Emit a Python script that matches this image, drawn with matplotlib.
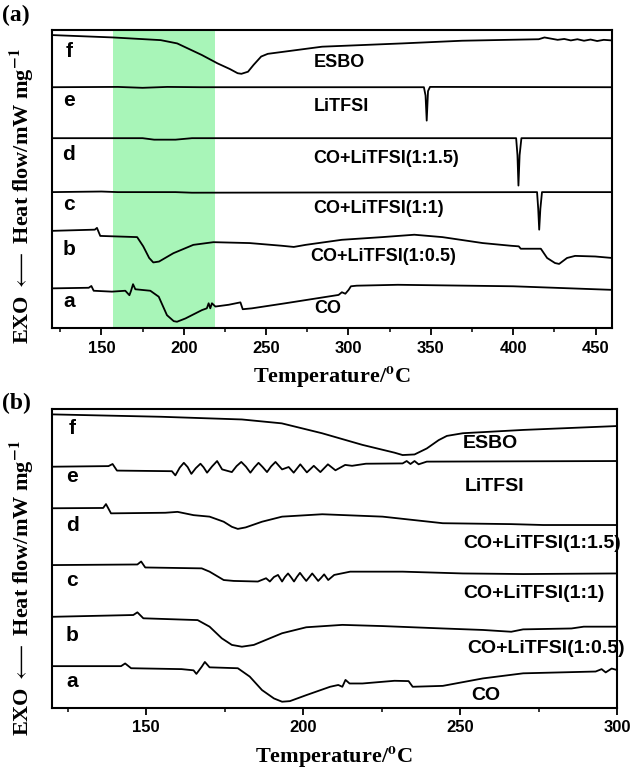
import numpy as np
import matplotlib
matplotlib.use("Agg")
import matplotlib.pyplot as plt
from matplotlib.ticker import MultipleLocator

plt.rcParams["mathtext.fontset"] = "stix"

# ---- panel (a) : 120-460 C ----
a_f_T = [120, 157, 186, 196, 211, 220.5, 228, 232.7, 235, 239, 242.4, 247, 251, 284, 332.7, 369, 415.5,
         419, 423, 427, 431, 435, 439, 443, 447, 451, 455, 460]
a_f_v = [98.3, 97.5, 96.6, 95.5, 91.6, 88.8, 86.9, 85.5, 85.3, 86.0, 88.3, 91.1, 92.0, 94.4, 95.5, 96.4, 96.9,
         97.5, 97.1, 96.7, 97.0, 96.5, 96.9, 96.4, 96.8, 96.3, 96.7, 96.5]

a_e_T = [120, 160, 175, 190, 210, 345.8, 346.8, 347.5, 348.3, 349.5, 460]
a_e_v = [80.8, 80.9, 80.6, 80.9, 80.8, 80.8, 78.0, 69.6, 79.5, 80.9, 80.8]

a_d_T = [120, 175, 182, 195, 205, 401.8, 402.6, 403.2, 403.9, 405, 460]
a_d_v = [63.7, 63.7, 63.2, 63.2, 63.7, 63.7, 58.0, 47.8, 58.0, 63.7, 63.7]

a_c_T = [120, 150, 160, 195, 205, 414.5, 415.2, 415.8, 416.5, 417.5, 460]
a_c_v = [45.6, 45.8, 45.6, 45.6, 45.4, 45.6, 40.0, 33.0, 40.0, 45.6, 45.6]

a_b_T = [120, 146, 147.3, 149.3, 171.7, 175.4, 179, 181.5, 185, 193.7, 205.8, 218, 240, 259.5, 266.8, 274, 296,
         320.5, 340, 357, 381.5, 398.6, 403.4, 404.6, 416.8, 420.6, 425.4, 427.9, 432.7, 437.6, 449.8, 460]
a_b_v = [32.6, 33.0, 33.6, 30.9, 30.5, 27.4, 23.5, 22.0, 22.3, 25.1, 27.9, 28.8, 28.5, 27.6, 27.2, 27.9, 29.6,
         30.5, 31.3, 30.5, 28.5, 27.6, 27.4, 26.6, 26.6, 23.5, 21.8, 21.5, 23.5, 24.2, 24.0, 23.5]

a_a_T = [120, 142.3, 143.9, 145.3, 156.4, 164.5, 167, 168, 169.2, 170.6, 179.7, 184.8, 189.8, 193.9, 195.9, 201,
         211, 214, 215.1, 216.1, 217.1, 219.2, 227.3, 234.4, 235.8, 241.4, 261.7, 294, 296, 298.1, 300.1,
         301.5, 305, 330, 400, 460]
a_a_v = [13.3, 13.5, 14.1, 12.5, 12.2, 12.5, 11.0, 12.5, 14.7, 13.0, 12.5, 10.5, 4.3, 2.3, 2.1, 3.2,
         6.0, 6.6, 8.3, 6.6, 8.3, 7.2, 7.8, 8.6, 6.3, 6.6, 8.3, 11.1, 12.0, 11.5, 12.8,
         14.0, 14.2, 14.5, 14.0, 12.8]

a_curves = [(a_f_T, a_f_v), (a_e_T, a_e_v), (a_d_T, a_d_v), (a_c_T, a_c_v), (a_b_T, a_b_v), (a_a_T, a_a_v)]
a_letters = ["f", "e", "d", "c", "b", "a"]
a_letter_y = [92.7, 76.5, 58.1, 41.3, 26.3, 8.9]
a_names = ["ESBO", "LiTFSI", "CO+LiTFSI(1:1.5)", "CO+LiTFSI(1:1)", "CO+LiTFSI(1:0.5)", "CO"]
a_name_x = [279, 279, 278.5, 278.5, 277, 279.5]
a_name_y = [89.1, 74.3, 57.0, 40.2, 24.0, 6.7]

# ---- panel (b) : 120-300 C ----
b_f_T = [120, 154.8, 180.5, 193.2, 206, 218.9, 229.1, 231.7, 235.5, 239.4, 243.2, 245.8, 250.9, 270.1, 300]
b_f_v = [98.2, 97.4, 96.5, 95.2, 91.9, 88.0, 85.4, 84.6, 84.8, 86.8, 89.6, 91.0, 91.9, 93.0, 94.3]

b_e_T = [120, 138, 139.3, 140.7, 158.2, 159.3, 160.7, 162, 163.2, 164.4, 165.8, 167.3, 168.3, 169.4, 171,
         172.6, 173.4, 174.2, 177.3, 178.8, 180.3, 181.8, 183.2, 184.5, 185.8, 187.1, 188.5, 189.8, 191.2,
         193.3, 195.4, 197, 199.1, 201.2, 203.4, 205.5, 207.9, 210.3, 213.4, 215.6,
         220, 231.7, 233, 234.2, 235.5, 236.8, 239.4, 300]
b_e_v = [80.7, 80.9, 81.6, 79.4, 79.2, 77.8, 80.4, 82.0, 80.6, 78.3, 80.2, 81.7, 80.5, 78.7, 80.8,
         82.6, 81.2, 79.8, 78.9, 80.9, 82.3, 80.7, 78.7, 80.5, 82.0, 80.6, 78.9, 80.8, 82.3,
         79.8, 80.6, 78.7, 81.5, 78.8, 81.0, 78.9, 81.5, 79.5, 81.3, 81.0,
         81.7, 81.8, 82.6, 81.6, 82.6, 81.5, 82.4, 82.6]

b_d_T = [120, 136.3, 137.2, 138.8, 156.1, 160, 165.1, 170.2, 174.7, 177.3, 179.2, 181.7, 186.9, 193.3,
         206.1, 225.3, 244.5, 266.3, 276.5, 300]
b_d_v = [66.8, 66.9, 68.2, 65.1, 65.3, 65.6, 64.5, 64.0, 62.3, 60.6, 59.9, 60.4, 62.3, 64.0,
         64.8, 64.0, 61.8, 61.5, 61.2, 61.2]

b_c_T = [120, 147.2, 148.4, 149.7, 167.7, 170.2, 174.7, 177.9, 185.6, 188.2, 189.4, 190.7, 192, 193.3, 194.2,
         195.2, 196.1, 197.1, 198, 199, 200, 201, 202, 202.9, 203.9, 204.8, 205.8, 206.7, 208, 209.9, 215,
         231.7, 250.9, 270.1, 300]
b_c_v = [47.8, 48.0, 49.0, 47.0, 46.7, 45.6, 42.8, 42.5, 42.3, 43.4, 42.3, 43.8, 44.5, 42.3, 43.8,
         45.0, 43.8, 42.3, 43.8, 45.2, 43.8, 42.5, 43.8, 45.0, 43.7, 42.5, 43.6, 44.7, 42.8, 44.5, 45.6,
         45.6, 45.0, 44.8, 45.0]

b_b_T = [120, 145.9, 147.2, 149.1, 166.4, 170.2, 174.1, 177.3, 180.5, 184.3, 193.3, 201, 212.5, 225.3,
         244.5, 257.3, 266.3, 270.1, 285.5, 289.4, 300]
b_b_v = [30.5, 31.1, 32.0, 30.0, 29.4, 27.2, 23.3, 21.1, 20.5, 21.1, 25.0, 27.0, 27.8, 27.4,
         26.6, 26.1, 25.5, 26.3, 26.6, 27.2, 27.2]

b_a_T = [120, 142, 143.3, 145.2, 161.3, 165.1, 166, 167.7, 168.7, 170.2, 179.2, 183, 186.9, 190.7, 193.3,
         195.8, 201, 208.6, 211.2, 212.5, 213.5, 214.8, 218.9, 229.1, 233.6, 234.9, 244.5, 257.3, 270.1,
         293.2, 295.1, 296.4, 298.3, 300]
b_a_v = [14.0, 14.0, 14.9, 13.3, 13.0, 12.6, 11.4, 13.8, 15.4, 13.6, 13.3, 10.5, 6.0, 3.2, 2.1,
         2.3, 4.3, 7.1, 7.7, 7.1, 9.4, 8.2, 8.2, 9.1, 9.0, 7.1, 7.4, 9.9, 11.6,
         12.2, 13.0, 11.9, 13.2, 12.7]

b_curves = [(b_f_T, b_f_v), (b_e_T, b_e_v), (b_d_T, b_d_v), (b_c_T, b_c_v), (b_b_T, b_b_v), (b_a_T, b_a_v)]
b_letter_y = [93.5, 77.4, 60.9, 42.8, 24.4, 8.8]
b_name_x = [251, 251.6, 251, 251, 252.3, 253.5]
b_name_y = [88.3, 74.2, 55.1, 38.3, 20.0, 4.3]

shade = (157, 219)

serif = ["Liberation Serif", "DejaVu Serif"]
sans = ["Liberation Sans", "DejaVu Sans"]

fig = plt.figure(figsize=(6.32, 7.69), dpi=100)
ax1 = fig.add_axes([52 / 632, 1 - 328 / 769, 560 / 632, 298 / 769])
ax2 = fig.add_axes([52 / 632, 1 - 708 / 769, 565 / 632, 299 / 769])


def style(ax, xlim, major, lx, names_x, names_y, letter_y, name_size):
    ax.set_xlim(*xlim)
    ax.set_ylim(0, 100)
    ax.set_yticks([])
    ax.xaxis.set_major_locator(MultipleLocator(major))
    ax.xaxis.set_minor_locator(MultipleLocator(major / 2))
    ax.tick_params(axis="x", which="major", direction="out", length=5, width=1.3, pad=4)
    ax.tick_params(axis="x", which="minor", direction="out", length=3, width=1.1)
    for lab in ax.get_xticklabels():
        lab.set_fontfamily(sans)
        lab.set_fontweight("bold")
        lab.set_fontsize(12)
    for s in ax.spines.values():
        s.set_linewidth(1.5)
    for i, letter in enumerate(a_letters):
        ax.text(lx, letter_y[i], letter, fontsize=15, fontweight="bold", family=sans,
                va="center", ha="center")
        ax.text(names_x[i], names_y[i], a_names[i], fontsize=name_size, fontweight="bold",
                family=sans, va="center", ha="left")


ax1.axvspan(shade[0], shade[1], color="#a8f5b8", zorder=0, lw=0)
for T, v in a_curves:
    ax1.plot(T, v, color="black", lw=1.3)
style(ax1, (120, 460), 50, 130.2, a_name_x, a_name_y, a_letter_y, 13)

for T, v in b_curves:
    ax2.plot(T, v, color="black", lw=1.3)
style(ax2, (120, 300), 50, 126.4, b_name_x, b_name_y, b_letter_y, 14)

xlab = r"Temperature/$^{\mathbf{o}}$C"
fig.text(332 / 632, 1 - 377 / 769, xlab, ha="center", va="center",
         fontsize=16, fontweight="bold", family=serif)
fig.text(334 / 632, 1 - 757 / 769, xlab, ha="center", va="center",
         fontsize=16, fontweight="bold", family=serif)

ylab = r"EXO $\longleftarrow$ Heat flow/mW mg$^{\mathbf{-1}}$"
fig.text(22 / 632, 1 - 196 / 769, ylab, rotation=90, ha="center", va="center",
         fontsize=16, fontweight="bold", family=serif)
fig.text(22 / 632, 1 - 588 / 769, ylab, rotation=90, ha="center", va="center",
         fontsize=16, fontweight="bold", family=serif)

fig.text(2 / 632, 1 - 15 / 769, "(a)", ha="left", va="center", fontsize=17,
         fontweight="bold", family=serif)
fig.text(2 / 632, 1 - 403 / 769, "(b)", ha="left", va="center", fontsize=17,
         fontweight="bold", family=serif)

fig.savefig("out.png", dpi=100)
